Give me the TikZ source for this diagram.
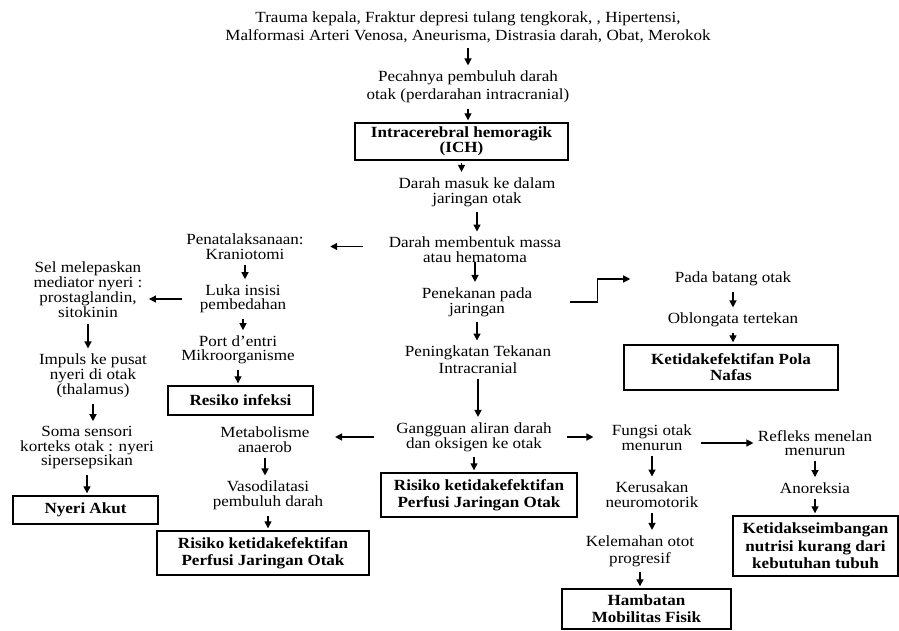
\documentclass[tikz,border=0pt]{standalone}
\usepackage{fontspec}
\setmainfont{Liberation Serif}[FakeStretch=1.1]
\usetikzlibrary{arrows.meta}

\newcommand\lsp[1]{\fontsize{15.5}{#1}\selectfont}

\begin{document}
\begin{tikzpicture}[x=1pt, y=-1pt,
    txt/.style={align=center, font=\lsp{15}},
    box/.style={draw, line width=1.4pt, align=center, inner sep=0pt, font=\lsp{17}\bfseries},
    arr/.style={-{Triangle[length=7pt,width=7pt]}, line width=1.3pt, shorten <=2pt, shorten >=2pt}]
    \useasboundingbox (0,0) rectangle (899,631);

    % Penyebab und Hauptstrang
    \node[txt, font=\lsp{18}] (sebab) at (468,27) {Trauma kepala, Fraktur depresi tulang tengkorak, , Hipertensi,\\ Malformasi Arteri Venosa, Aneurisma, Distrasia darah, Obat, Merokok};
    \node[txt, font=\lsp{18}] (pecah) at (468,87) {Pecahnya pembuluh darah\\ otak (perdarahan intracranial)};
    \node[box, font=\lsp{15}\bfseries, minimum width=213pt, minimum height=37pt] (ich) at (461.5,141.5) {Intracerebral hemoragik\\ (ICH)};
    \node[txt] (masuk) at (477,192) {Darah masuk ke dalam\\ jaringan otak};
    \node[txt] (massa) at (475,250) {Darah membentuk massa\\ atau hematoma};
    \node[txt] (tekan) at (477,302) {Penekanan pada\\ jaringan};
    \node[txt, font=\lsp{17}] (tik) at (478,360) {Peningkatan Tekanan\\ Intracranial};
    \node[txt] (ganggu) at (474,437) {Gangguan aliran darah\\ dan oksigen ke otak};
    \node[box, minimum width=196pt, minimum height=44pt] (perfusiA) at (479,495) {Risiko ketidakefektifan\\ Perfusi Jaringan Otak};

    \draw[arr] (sebab) -- (pecah);
    \draw[arr] (pecah) -- (pecah |- ich.north);
    \draw[arr] (ich) -- (ich |- masuk.north);
    \draw[arr] (masuk) -- (masuk |- massa.north);
    \draw[arr, shorten <=-4pt] (massa) -- (massa |- tekan.north);
    \draw[arr] (tekan) -- (tekan |- tik.north);
    \draw[arr] (tik) -- (tik |- ganggu.north);
    \draw[arr] (ganggu) -- (ganggu |- perfusiA.north);

    % Batang otak
    \node[txt] (batang) at (733,279) {Pada batang otak};
    \node[txt] (oblong) at (733,320) {Oblongata tertekan};
    \node[box, font=\lsp{16}\bfseries, minimum width=214pt, minimum height=45pt] (nafas) at (731,367.5) {Ketidakefektifan Pola\\ Nafas};

    \draw[arr, shorten <=34pt, shorten >=41pt] (tekan.east) -- ++(62pt,0) |- (batang.west);
    \draw[arr] (batang) -- (oblong);
    \draw[arr] (oblong) -- (oblong |- nafas.north);

    % Kraniotomi
    \node[txt, font=\lsp{14.5}] (tata) at (245,246.5) {Penatalaksanaan:\\ Kraniotomi};
    \node[txt, font=\lsp{14.5}] (luka) at (243,299) {Luka insisi\\ pembedahan};
    \node[txt, font=\lsp{14.5}] (port) at (238,350) {Port d'entri\\ Mikroorganisme};
    \node[box, minimum width=145pt, minimum height=29pt] (infeksi) at (240.5,400.5) {Resiko infeksi};

    \draw[arr, shorten <=22pt, shorten >=23pt] (massa.west |- tata) -- (tata);
    \draw[arr] (tata) -- (tata |- luka.north);
    \draw[arr] (luka) -- (luka |- port.north);
    \draw[arr] (port) -- (port |- infeksi.north);

    % Nyeri
    \node[txt, font=\lsp{14}] (sel) at (88,290) {Sel melepaskan\\ mediator nyeri :\\ prostaglandin,\\ sitokinin};
    \node[txt] (impuls) at (93,376) {Impuls ke pusat\\ nyeri di otak\\ (thalamus)};
    \node[txt, font=\lsp{14.5}] (soma) at (87,448) {Soma sensori\\ korteks otak : nyeri\\ sipersepsikan};
    \node[box, minimum width=145pt, minimum height=28pt] (nyeri) at (85.5,510) {Nyeri Akut};

    \draw[arr, shorten <=14pt, shorten >=3pt] (luka.west) -- (sel.east |- luka.west);
    \draw[arr] (sel) -- (sel |- impuls.north);
    \draw[arr] (impuls) -- (impuls |- soma.north);
    \draw[arr] (soma) -- (soma |- nyeri.north);

    % Metabolisme anaerob
    \node[txt] (meta) at (265,439.5) {Metabolisme\\ anaerob};
    \node[txt] (vaso) at (268,495.5) {Vasodilatasi\\ pembuluh darah};
    \node[box, minimum width=212pt, minimum height=44pt] (perfusiB) at (263,553) {Risiko ketidakefektifan\\ Perfusi Jaringan Otak};

    \draw[arr, shorten <=19pt, shorten >=22pt] (ganggu.west) -- (meta.east |- ganggu.west);
    \draw[arr] (meta) -- (meta |- vaso.north);
    \draw[arr] (vaso) -- (vaso |- perfusiB.north);

    % Fungsi otak
    \node[txt] (fungsi) at (652,438) {Fungsi otak\\ menurun};
    \node[txt] (rusak) at (652,495) {Kerusakan\\ neuromotorik};
    \node[txt, font=\lsp{17}] (lemah) at (640,551) {Kelemahan otot\\ progresif};
    \node[box, minimum width=169pt, minimum height=40pt] (hambat) at (646.5,609) {Hambatan\\ Mobilitas Fisik};

    \draw[arr, shorten <=12pt, shorten >=15pt] (ganggu.east) -- (fungsi.west |- ganggu.east);
    \draw[arr] (fungsi) -- (rusak);
    \draw[arr] (rusak) -- (rusak |- lemah.north);
    \draw[arr] (lemah) -- (lemah |- hambat.north);

    % Refleks menelan
    \node[txt, font=\lsp{14}] (refleks) at (815,443) {Refleks menelan\\ menurun};
    \node[txt] (anor) at (815,488) {Anoreksia};
    \node[box, font=\lsp{17.5}\bfseries, minimum width=165pt, minimum height=60pt] (nutri) at (815.5,546) {Ketidakseimbangan\\ nutrisi kurang dari\\ kebutuhan tubuh};

    \draw[arr, shorten <=5pt, shorten >=1pt] (fungsi.east |- refleks.west) -- (refleks.west);
    \draw[arr] (refleks) -- (anor);
    \draw[arr] (anor) -- (anor |- nutri.north);
\end{tikzpicture}
\end{document}
